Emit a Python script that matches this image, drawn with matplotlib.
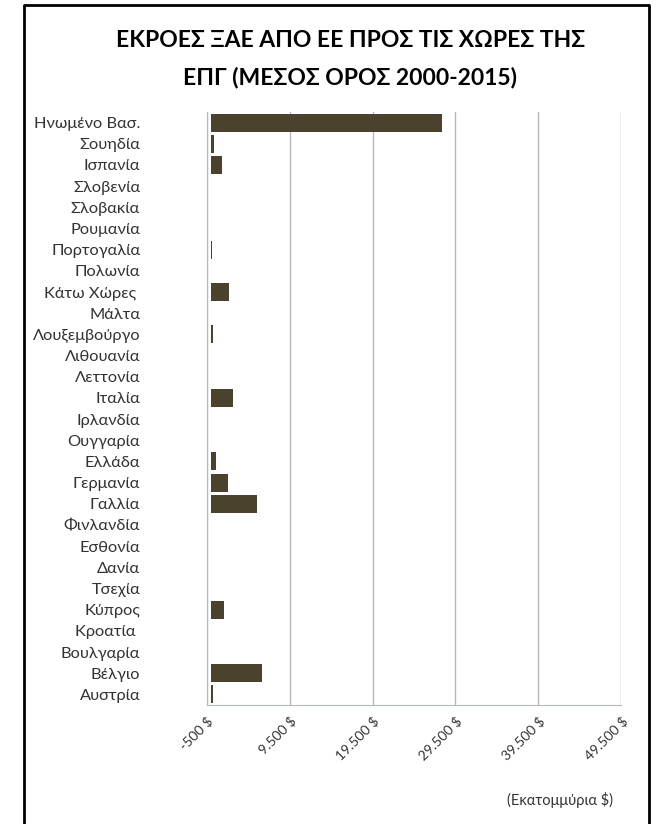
import matplotlib.pyplot as plt
from matplotlib.lines import Line2D
from matplotlib.ticker import FuncFormatter

countries = ['Ηνωμένο Βασ.', 'Σουηδία', 'Ισπανία', 'Σλοβενία', 'Σλοβακία', 'Ρουμανία',
             'Πορτογαλία', 'Πολωνία', 'Κάτω Χώρες ', 'Μάλτα', 'Λουξεμβούργο', 'Λιθουανία',
             'Λεττονία', 'Ιταλία', 'Ιρλανδία', 'Ουγγαρία', 'Ελλάδα', 'Γερμανία', 'Γαλλία',
             'Φινλανδία', 'Εσθονία', 'Δανία', 'Τσεχία', 'Κύπρος', 'Κροατία ', 'Βουλγαρία',
             'Βέλγιο', 'Αυστρία']
outflows = [27900, 400, 1280, 60, 60, 60,
            120, 60, 2130, 60, 200, 50,
            50, 2650, 60, 60, 560, 2040, 5540,
            60, 50, 60, 60, 1520, 60, 60,
            6110, 300]
x_ticks = [-500, 9500, 19500, 29500, 39500, 49500]

plt.rcParams['font.family'] = ['Lato', 'DejaVu Sans']

fig = plt.figure(figsize=(6.65, 8.24), dpi=100)
ax = fig.add_axes([0.311, 0.1444, 0.623, 0.7197])

ax.barh(countries, outflows, height=0.85, color='#4b422d')
ax.set_xlim(x_ticks[0], x_ticks[-1])
ax.set_ylim(len(countries) - 0.5, -0.5)
ax.set_xticks(x_ticks)
ax.xaxis.set_major_formatter(FuncFormatter(lambda v, p: f'{int(v):,} $'.replace(',', '.')))
ax.grid(axis='x', color='#b4b9be', linewidth=1)
ax.set_axisbelow(True)

for side in ['top', 'right']:
    ax.spines[side].set_visible(False)
for side in ['left', 'bottom']:
    ax.spines[side].set_color('#b4b9be')

ax.tick_params(axis='y', length=0, pad=48, labelsize=11.8, labelcolor='#333333')
ax.tick_params(axis='x', length=0, pad=7, labelsize=10, labelcolor='#333333')
for lbl in ax.get_xticklabels():
    lbl.set_rotation(45)
    lbl.set_ha('right')
    lbl.set_rotation_mode('anchor')

fig.text(0.527, 0.951, 'ΕΚΡΟΕΣ ΞΑΕ ΑΠΟ ΕΕ ΠΡΟΣ ΤΙΣ ΧΩΡΕΣ ΤΗΣ', ha='center', va='center',
         fontsize=16.5, fontweight='bold')
fig.text(0.527, 0.906, 'ΕΠΓ (ΜΕΣΟΣ ΟΡΟΣ 2000-2015)', ha='center', va='center',
         fontsize=16.5, fontweight='bold')
fig.text(0.922, 0.029, '(Εκατομμύρια $)', ha='right', va='center', fontsize=10.5, color='#333333')

# outer frame (open at the bottom)
x0, x1, y0 = 24 / 665, 649 / 665, 1 - 5 / 824
fig.add_artist(Line2D([x0, x0, x1, x1], [0, y0, y0, 0], color='black', linewidth=2,
                      transform=fig.transFigure))

fig.savefig('out.png', dpi=100)
